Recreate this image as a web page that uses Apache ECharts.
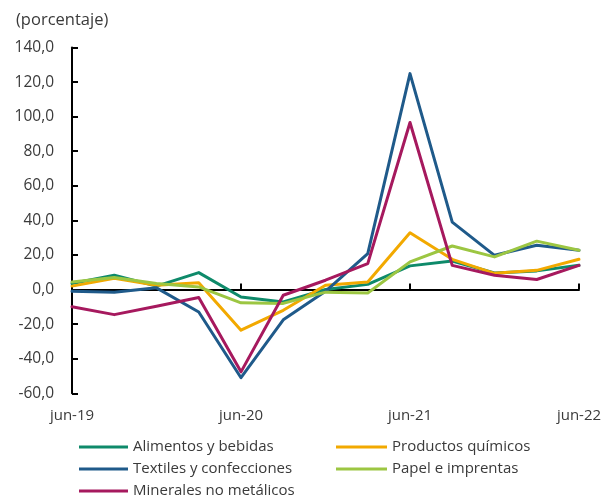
<!DOCTYPE html>
<html>
<head>
<meta charset="utf-8">
<script src="https://cdn.jsdelivr.net/npm/echarts@6/dist/echarts.min.js"></script>
<style>html,body{margin:0;padding:0;background:#fff;}#c{width:610px;height:498px;}</style>
</head>
<body>
<div id="c"></div>
<script>
var categories = ["jun-19","sep-19","dic-19","mar-20","jun-20","sep-20","dic-20","mar-21","jun-21","sep-21","dic-21","mar-22","jun-22"];
var alimentos  = [3.5, 8.3, 2.0, 9.8, -4.3, -7.2, 0.0, 3.0, 13.7, 16.5, 9.6, 10.8, 14.0];
var quimicos   = [2.0, 6.5, 2.5, 4.0, -23.5, -12.0, 2.5, 4.4, 32.8, 17.5, 9.4, 11.1, 17.5];
var textiles   = [-1.0, -1.5, 1.0, -13.0, -51.0, -17.5, -1.0, 20.8, 124.9, 39.0, 19.8, 25.6, 22.7];
var papel      = [4.4, 7.0, 3.5, 1.5, -7.7, -8.0, -1.5, -2.0, 16.0, 25.2, 18.9, 28.0, 22.7];
var minerales  = [-10.0, -14.5, -9.6, -4.6, -47.6, -3.3, 5.4, 15.0, 96.6, 14.0, 8.3, 5.8, 14.0];
var seriesNames = ["Alimentos y bebidas","Productos químicos","Textiles y confecciones","Papel e imprentas","Minerales no metálicos"];
var colors = ["#0E8A6A","#F2A900","#1F5A8A","#9CC642","#A6195E"];
var yTicks = {min: -60, max: 140, step: 20};

var FONT = "'Open Sans', 'Noto Sans', sans-serif";
var TXT = "#3a3a3a";
var allData = [alimentos, quimicos, textiles, papel, minerales];

var chart = echarts.init(document.getElementById('c'), null, {renderer: 'canvas'});
var series = allData.map(function (d, i) {
  return {
    name: seriesNames[i], type: 'line', data: d, xAxisIndex: 0,
    showSymbol: false, symbol: 'none', smooth: false,
    lineStyle: {width: 3, color: colors[i], cap: 'round', join: 'round'},
    itemStyle: {color: colors[i]}, animation: false
  };
});
// legend slot positions: [left, top, iconWidth] for each series
var legendSlots = [[79, 438, 49], [336, 438, 51], [79, 460, 49], [336, 460, 51], [79, 482, 49]];
var legends = seriesNames.map(function (n, i) {
  return {
    data: [n], left: legendSlots[i][0], top: legendSlots[i][1], padding: 0,
    icon: 'rect', itemWidth: legendSlots[i][2], itemHeight: 3,
    textStyle: {fontFamily: FONT, fontSize: 15, lineHeight: 18, color: TXT}
  };
});
chart.setOption({
  animation: false,
  title: {text: '(porcentaje)', left: 11, top: 7,
    textStyle: {fontFamily: FONT, fontSize: 16.5, fontWeight: 'normal', color: TXT}},
  grid: {left: 72, right: 31, top: 47.5, bottom: 104.7, containLabel: false},
  xAxis: [{
    type: 'category', data: categories, boundaryGap: false,
    axisLine: {onZero: true, lineStyle: {color: '#000', width: 2}},
    axisTick: {show: true, inside: true, length: 6, interval: 3, lineStyle: {color: '#000', width: 2}},
    axisLabel: {show: false}, splitLine: {show: false}
  }, {
    type: 'category', data: categories, boundaryGap: false, position: 'bottom',
    axisLine: {show: false, onZero: false}, axisTick: {show: false},
    axisLabel: {interval: 3, margin: 15, fontFamily: FONT, fontSize: 15, color: TXT}
  }],
  yAxis: {
    type: 'value', min: yTicks.min, max: yTicks.max, interval: yTicks.step,
    axisLine: {show: true, lineStyle: {color: '#000', width: 2}},
    axisTick: {show: true, inside: true, length: 6, lineStyle: {color: '#000', width: 2}},
    splitLine: {show: false},
    axisLabel: {margin: 18, fontFamily: FONT, fontSize: 15.5, color: TXT,
      formatter: function (v) { return v.toFixed(1).replace('.', ','); }}
  },
  legend: legends,
  series: series
});
</script>
</body>
</html>
